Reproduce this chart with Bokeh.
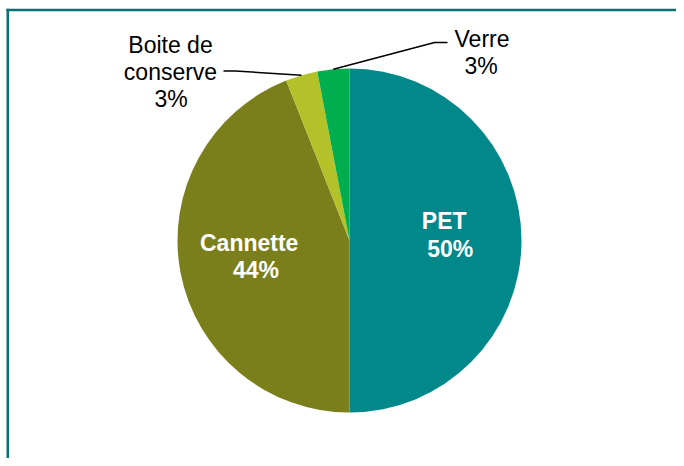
import math
from bokeh.plotting import figure
from bokeh.models import Range1d, ColumnDataSource
from bokeh.core.properties import value
from bokeh.embed import file_html
from bokeh.resources import INLINE

# ---- data ----
categories = ["PET", "Cannette", "Boite de conserve", "Verre"]
shares = [50, 44, 3, 3]
colors = ["#00888B", "#7A7F1C", "#B4C22A", "#00AE4F"]

# ---- layout (reference pixel coordinates; y measured downward) ----
W, H = 676, 458
def X(px): return px
def Y(py): return 466 - py

cx, cy, R = X(349), Y(240), 172

p = figure(width=W, height=H, output_backend="svg", toolbar_location=None,
           x_range=Range1d(0, W), y_range=Range1d(466 - H, 466),
           min_border=0, outline_line_color=None, background_fill_color="white",
           border_fill_color="white")
p.axis.visible = False
p.grid.visible = False

# wedges: clockwise from 12 o'clock
total = float(sum(shares))
cum = 0.0
starts, ends, mids = [], [], []
for s in shares:
    a0 = math.pi / 2 - 2 * math.pi * cum / total
    cum += s
    a1 = math.pi / 2 - 2 * math.pi * cum / total
    starts.append(a1)
    ends.append(a0)
    mids.append((a0 + a1) / 2)

src = ColumnDataSource(dict(start=starts, end=ends, color=colors, cat=categories))
p.wedge(x=cx, y=cy, radius=R, start_angle="start", end_angle="end",
        direction="anticlock", fill_color="color", line_color=None, source=src)

# leader lines for small slices
def edge(i):
    return cx + R * math.cos(mids[i]), cy + R * math.sin(mids[i])

bx, by = edge(2)
p.line([bx, X(235), X(223)], [by, Y(70.5), Y(70.5)], line_color="black", line_width=1.5)
vx, vy = edge(3)
p.line([vx, X(434), X(447)], [vy, Y(42), Y(42)], line_color="black", line_width=1.5)

# labels
pct = [f"{s}%" for s in shares]
lab_text = ["PET", pct[0], "Cannette", pct[1], "Boite de", "conserve", pct[2], "Verre", pct[3]]
lab_x = [443.7, 449.7, 248.7, 255.5, 170, 170, 170.5, 481.5, 480.5]
lab_y = [220, 248.3, 242.3, 269.3, 44.5, 71, 98, 38, 65]
lab_col = ["white", "white", "white", "white", "black", "black", "black", "black", "black"]
lab_style = ["bold"] * 4 + ["normal"] * 5

lsrc = ColumnDataSource(dict(x=[X(v) for v in lab_x], y=[Y(v) for v in lab_y],
                             t=lab_text, c=lab_col, s=lab_style))
p.text(x="x", y="y", text="t", text_color="c", text_font_style="s",
       text_font=value("Liberation Sans"), text_font_size="23px",
       text_align="center", text_baseline="alphabetic", source=lsrc)

# chart frame (top and left edges visible)
frame_col = "#0E6F72"
p.line([X(6), X(W)], [Y(9.5), Y(9.5)], line_color=frame_col, line_width=2.5)
p.line([X(7.3), X(7.3)], [Y(8.3), Y(466)], line_color=frame_col, line_width=2.6)

open("out.html", "w").write(file_html(p, INLINE))
